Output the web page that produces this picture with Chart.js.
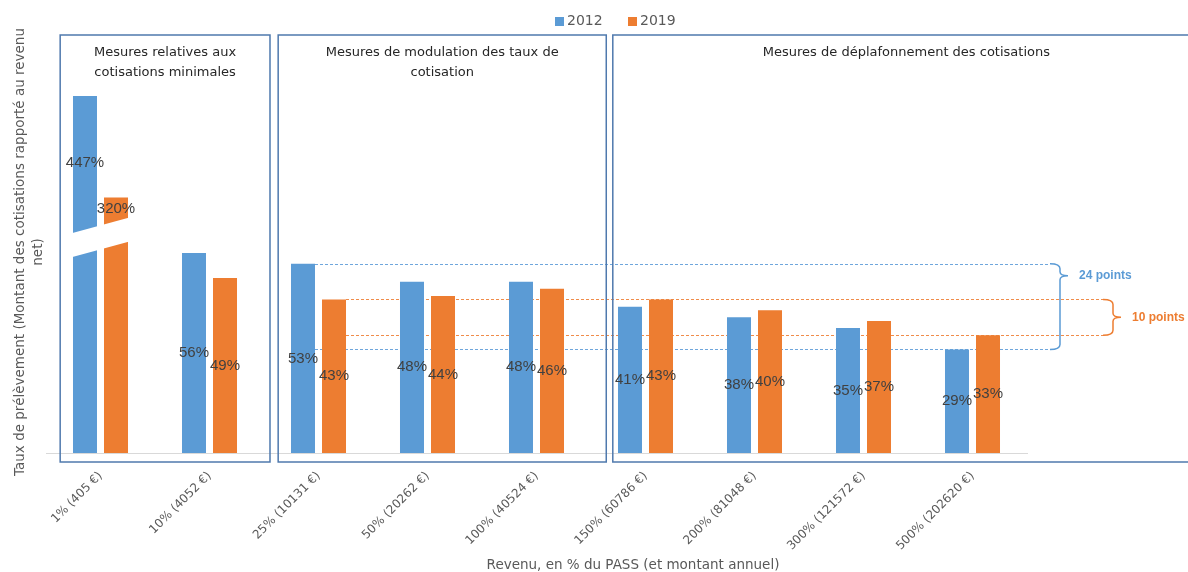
<!DOCTYPE html>
<html lang="fr">
<head>
<meta charset="utf-8">
<script src="https://cdn.jsdelivr.net/npm/chart.js@4.4.1/dist/chart.umd.min.js"></script>
<style>
  html, body { margin: 0; padding: 0; background: #fff; }
  #wrap { width: 1188px; height: 572px; }
</style>
</head>
<body>
<div id="wrap"><canvas id="tauxChart"></canvas></div>
<script>
const revenus = ["1% (405 €)", "10% (4052 €)", "25% (10131 €)", "50% (20262 €)", "100% (40524 €)",
  "150% (60786 €)", "200% (81048 €)", "300% (121572 €)", "500% (202620 €)"];
const taux2012 = [447, 56, 53, 48, 48, 41, 38, 35, 29];
const taux2019 = [320, 49, 43, 44, 46, 43, 40, 37, 33];

const groupTitles = [
  ["Mesures relatives aux", "cotisations minimales"],
  ["Mesures de modulation des taux de", "cotisation"],
  ["Mesures de déplafonnement des cotisations"]
];
// first and last category of each group
const groupFrom = [0, 2, 5];
const groupTo = [1, 4, 8];

const BLUE = "#5b9bd5";
const ORANGE = "#ed7d31";
const GREY = "#595959";

// the 1% bars go far above the others: they get their own axis and a cut
const mainPart = arr => arr.map((v, i) => (i === 0 ? null : v));
const cutPart = arr => arr.map((v, i) => (i === 0 ? v : null));
const CUT_VALUE = 270;

function cutCenter(chart, x) {
  const y2 = chart.scales.y2;
  const xs = chart.scales.x;
  return y2.getPixelForValue(CUT_VALUE) - 0.27 * (x - xs.getPixelForValue(0));
}

function drawBrace(ctx, x, yTop, yBot, tipY, color) {
  ctx.save();
  ctx.strokeStyle = color;
  ctx.lineWidth = 1.5;
  ctx.beginPath();
  ctx.moveTo(x - 10, yTop);
  ctx.quadraticCurveTo(x, yTop, x, yTop + 5);
  ctx.lineTo(x, tipY - 4);
  ctx.quadraticCurveTo(x, tipY, x + 8, tipY);
  ctx.moveTo(x + 8, tipY);
  ctx.quadraticCurveTo(x, tipY, x, tipY + 4);
  ctx.lineTo(x, yBot - 5);
  ctx.quadraticCurveTo(x, yBot, x - 10, yBot);
  ctx.stroke();
  ctx.restore();
}

const decor = {
  id: "decor",
  beforeDatasetsDraw(chart) {
    const { ctx, scales: { y } } = chart;
    const area = chart.chartArea;
    const last = revenus.length - 1;
    const lines = [
      { ds: 0, color: "#6fa6dc", end: area.right + 23 },
      { ds: 1, color: "#f08c4a", end: area.right + 76 }
    ];
    ctx.save();
    ctx.lineWidth = 1.2;
    ctx.setLineDash([3, 2]);
    lines.forEach(l => {
      const bar = chart.getDatasetMeta(l.ds).data[2];
      const vals = chart.data.datasets[l.ds].data;
      ctx.strokeStyle = l.color;
      [vals[2], vals[last]].forEach(v => {
        const py = Math.round(y.getPixelForValue(v)) + 0.5;
        ctx.beginPath();
        ctx.moveTo(bar.x + bar.width / 2, py);
        ctx.lineTo(l.end, py);
        ctx.stroke();
      });
    });
    ctx.restore();
  },
  afterDatasetsDraw(chart) {
    const { ctx, scales: { x, y } } = chart;
    const area = chart.chartArea;
    const last = revenus.length - 1;

    // white slanted cut through the 1% bars
    const xl = x.getPixelForValue(0) - 40;
    const xr = x.getPixelForValue(0) + 40;
    ctx.save();
    ctx.fillStyle = "#ffffff";
    ctx.beginPath();
    ctx.moveTo(xl, cutCenter(chart, xl) - 12);
    ctx.lineTo(xr, cutCenter(chart, xr) - 12);
    ctx.lineTo(xr, cutCenter(chart, xr) + 12);
    ctx.lineTo(xl, cutCenter(chart, xl) + 12);
    ctx.closePath();
    ctx.fill();
    ctx.restore();

    // value labels in the middle of each bar
    ctx.save();
    ctx.font = "15px 'Liberation Sans'";
    ctx.fillStyle = "#404040";
    ctx.textAlign = "center";
    ctx.textBaseline = "middle";
    chart.data.datasets.forEach((ds, di) => {
      chart.getDatasetMeta(di).data.forEach((bar, i) => {
        const v = ds.data[i];
        if (v == null) return;
        let cy = (bar.y + bar.base) / 2;
        if (ds.yAxisID === "y2") cy = (bar.y + cutCenter(chart, bar.x) - 12) / 2;
        ctx.fillText(v + "%", bar.x, cy);
      });
    });
    ctx.restore();

    // braces showing the spread between 25% and 500%
    const spreads = [
      { vals: taux2012, color: BLUE, bx: area.right + 33, tip: 0.14 },
      { vals: taux2019, color: ORANGE, bx: area.right + 86, tip: 0.5 }
    ];
    spreads.forEach(s => {
      const yTop = y.getPixelForValue(s.vals[2]);
      const yBot = y.getPixelForValue(s.vals[last]);
      const tipY = yTop + (yBot - yTop) * s.tip;
      drawBrace(ctx, s.bx, yTop, yBot, tipY, s.color);
      ctx.save();
      ctx.font = "bold 12px 'Liberation Sans'";
      ctx.fillStyle = s.color;
      ctx.textBaseline = "middle";
      ctx.fillText((s.vals[2] - s.vals[last]) + " points", s.bx + 19, tipY);
      ctx.restore();
    });
  },
  afterDraw(chart) {
    const { ctx, scales: { x } } = chart;
    const cw = x.getPixelForValue(1) - x.getPixelForValue(0);
    const top = 35, bottom = 462;
    const lefts = [x.getPixelForValue(groupFrom[0]) - 0.37 * cw,
                   x.getPixelForValue(groupFrom[1]) - 0.37 * cw,
                   x.getPixelForValue(groupFrom[2]) - 0.30 * cw];
    const rights = [x.getPixelForValue(groupTo[0]) + 0.555 * cw,
                    x.getPixelForValue(groupTo[1]) + 0.64 * cw,
                    chart.width + 12];

    // group frames and their titles
    ctx.save();
    ctx.strokeStyle = "#4f79ad";
    ctx.lineWidth = 1.5;
    groupTitles.forEach((t, g) => {
      ctx.strokeRect(lefts[g], top, rights[g] - lefts[g], bottom - top);
    });
    ctx.font = "13px 'DejaVu Sans'";
    ctx.fillStyle = "#262626";
    ctx.textAlign = "center";
    ctx.textBaseline = "middle";
    groupTitles.forEach((t, g) => {
      const cx = (lefts[g] + rights[g]) / 2;
      t.forEach((line, k) => ctx.fillText(line, cx, 53 + k * 20));
    });
    ctx.restore();

    // legend
    ctx.save();
    ctx.font = "14px 'DejaVu Sans'";
    ctx.textBaseline = "middle";
    [["2012", BLUE, 555], ["2019", ORANGE, 628]].forEach(([txt, col, lx]) => {
      ctx.fillStyle = col;
      ctx.fillRect(lx, 17, 9, 9);
      ctx.fillStyle = GREY;
      ctx.fillText(txt, lx + 12, 21.5);
    });
    ctx.restore();

    // axis titles
    ctx.save();
    ctx.font = "13.5px 'DejaVu Sans'";
    ctx.fillStyle = GREY;
    ctx.textAlign = "center";
    ctx.textBaseline = "middle";
    ctx.fillText("Revenu, en % du PASS (et montant annuel)", 633, 565);
    ctx.translate(20, 252);
    ctx.rotate(-Math.PI / 2);
    ctx.fillText("Taux de prélèvement (Montant des cotisations rapporté au revenu", 0, 0);
    ctx.fillText("net)", 0, 18);
    ctx.restore();
  }
};

const ctx = document.getElementById("tauxChart");
const tauxChart = new Chart(ctx, {
  type: "bar",
  data: {
    labels: revenus,
    datasets: [
      { label: "2012", data: mainPart(taux2012), backgroundColor: BLUE, yAxisID: "y" },
      { label: "2019", data: mainPart(taux2019), backgroundColor: ORANGE, yAxisID: "y" },
      { label: "2012", data: cutPart(taux2012), backgroundColor: BLUE, yAxisID: "y2" },
      { label: "2019", data: cutPart(taux2019), backgroundColor: ORANGE, yAxisID: "y2" }
    ]
  },
  options: {
    responsive: true,
    maintainAspectRatio: false,
    animation: false,
    layout: { padding: { top: 96, left: 46, right: 161, bottom: 0 } },
    datasets: {
      bar: { skipNull: true, categoryPercentage: 0.569, barPercentage: 0.774 }
    },
    plugins: {
      legend: { display: false },
      tooltip: { enabled: false }
    },
    scales: {
      x: {
        grid: { display: false, drawTicks: false },
        border: { display: true, color: "#d9d9d9", width: 1 },
        ticks: {
          color: GREY,
          font: { family: "DejaVu Sans", size: 12 },
          maxRotation: 45,
          minRotation: 45,
          padding: 16
        },
        afterFit(scale) { scale.height = 119; }
      },
      y: { display: false, min: 0, max: 100 },
      y2: { display: false, min: 0, max: taux2012[0] }
    }
  },
  plugins: [decor]
});
</script>
</body>
</html>
